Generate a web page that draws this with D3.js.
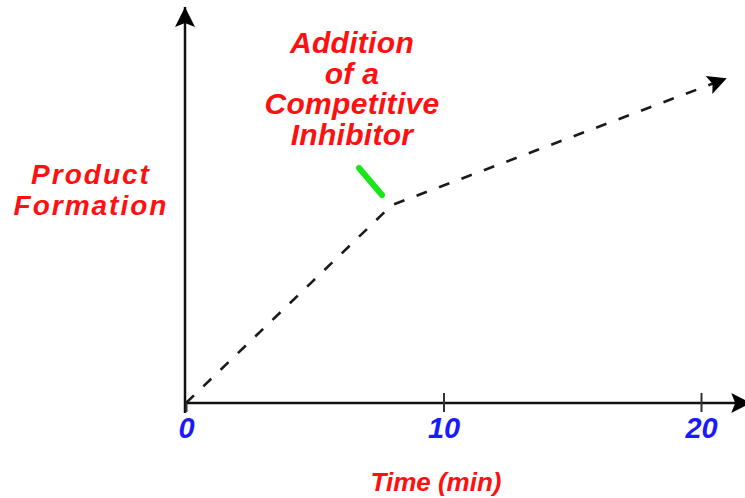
<!DOCTYPE html>
<html>
<head>
<meta charset="utf-8">
<script src="https://cdn.jsdelivr.net/npm/d3@7"></script>
<style>
  html, body { margin: 0; padding: 0; background: #fff; }
  svg { display: block; }
  text { font-family: "Liberation Sans", Arial, Helvetica, sans-serif; font-weight: bold; font-style: italic; }
</style>
</head>
<body>
<svg id="chart" width="745" height="498"></svg>
<script>
// ---- data ----
const times = [0, 8, 21];            // minutes
const product = [0, 5.0, 8.2];       // product formation (arbitrary units)
const xTickValues = [0, 10, 20];
const xTickLabels = ["0", "10", "20"];
const yLabelLines = ["Product", "Formation"];
const xLabel = "Time (min)";
const noteLines = ["Addition", "of a", "Competitive", "Inhibitor"];
const noteAt = [8, 5.0];             // where the inhibitor is added

const svg = d3.select("#chart");
const x = d3.scaleLinear().domain([0, 20]).range([186, 701]);
const y = d3.scaleLinear().domain([0, 10]).range([403, 7]);

const red = "#ff1010", blue = "#1a1aff", axisCol = "#111";

// arrow markers
const defs = svg.append("defs");
defs.append("marker").attr("id", "ah").attr("viewBox", "0 0 10 10")
  .attr("refX", 10).attr("refY", 5).attr("markerWidth", 22).attr("markerHeight", 20)
  .attr("markerUnits", "userSpaceOnUse").attr("orient", "auto")
  .append("path").attr("d", "M0,0 L10,5 L0,10 L2,5 Z").attr("fill", "#000");
defs.append("marker").attr("id", "lh").attr("viewBox", "0 0 10 10")
  .attr("refX", 10).attr("refY", 5).attr("markerWidth", 26).attr("markerHeight", 19)
  .attr("markerUnits", "userSpaceOnUse").attr("orient", "auto")
  .append("path").attr("d", "M0,0 L10,5 L0,10 L2,5 Z").attr("fill", "#000");

// y axis (no ticks), extended below the x axis and ending with an arrow
const yAxis = svg.append("g").attr("transform", `translate(${x(0) - 1},0)`)
  .call(d3.axisLeft(y).tickValues([]).tickSizeOuter(0));
yAxis.select(".domain").remove();
yAxis.append("line")
  .attr("x1", 0).attr("x2", 0)
  .attr("y1", y(-0.25)).attr("y2", y(10))
  .attr("stroke", axisCol).attr("stroke-width", 2.5)
  .attr("marker-end", "url(#ah)");

// x axis
const xAxis = svg.append("g").attr("transform", `translate(0,${y(0)})`)
  .call(d3.axisBottom(x).tickValues(xTickValues)
    .tickFormat((d, i) => xTickLabels[i]).tickSizeOuter(0).tickPadding(0));
xAxis.select(".domain").remove();
xAxis.insert("line", ":first-child")
  .attr("x1", x(0) - 1).attr("x2", x(21.95)).attr("y1", 0).attr("y2", 0)
  .attr("stroke", axisCol).attr("stroke-width", 2.5)
  .attr("marker-end", "url(#ah)");
xAxis.selectAll(".tick line")
  .attr("y1", d => d === 0 ? 0 : -10).attr("y2", 9)
  .attr("stroke", "#333").attr("stroke-width", 2);
xAxis.selectAll(".tick text")
  .attr("y", 35).attr("dy", 0)
  .attr("fill", blue).attr("font-size", 29)
  .style("font-family", '"Liberation Sans", Arial, sans-serif')
  .style("font-weight", "bold").style("font-style", "italic");

// data line
const pts = times.map((t, i) => [t, product[i]]);
svg.append("path")
  .datum(pts)
  .attr("d", d3.line().x(d => x(d[0])).y(d => y(d[1])))
  .attr("fill", "none").attr("stroke", "#1a1a1a").attr("stroke-width", 2.6)
  .attr("stroke-dasharray", "11,13")
  .attr("marker-end", "url(#lh)");

// inhibitor pointer (green)
svg.append("line")
  .attr("x1", x(noteAt[0]) - 33).attr("y1", y(noteAt[1]) - 37)
  .attr("x2", x(noteAt[0]) - 10).attr("y2", y(noteAt[1]) - 10)
  .attr("stroke", "#19e619").attr("stroke-width", 6).attr("stroke-linecap", "round");

// annotation text
svg.append("g").selectAll("text").data(noteLines).join("text")
  .attr("x", 352).attr("y", (d, i) => 53 + i * 30.5)
  .attr("text-anchor", "middle").attr("font-size", 30).attr("fill", red)
  .attr("letter-spacing", 0.3)
  .text(d => d);

// y label
svg.append("g").selectAll("text").data(yLabelLines).join("text")
  .attr("x", 91).attr("y", (d, i) => 184 + i * 31)
  .attr("text-anchor", "middle").attr("font-size", 28).attr("fill", red)
  .attr("letter-spacing", 2)
  .text(d => d);

// x label
svg.append("text")
  .attr("x", 436).attr("y", 491)
  .attr("text-anchor", "middle").attr("font-size", 26).attr("fill", red)
  .text(xLabel);
</script>
</body>
</html>
